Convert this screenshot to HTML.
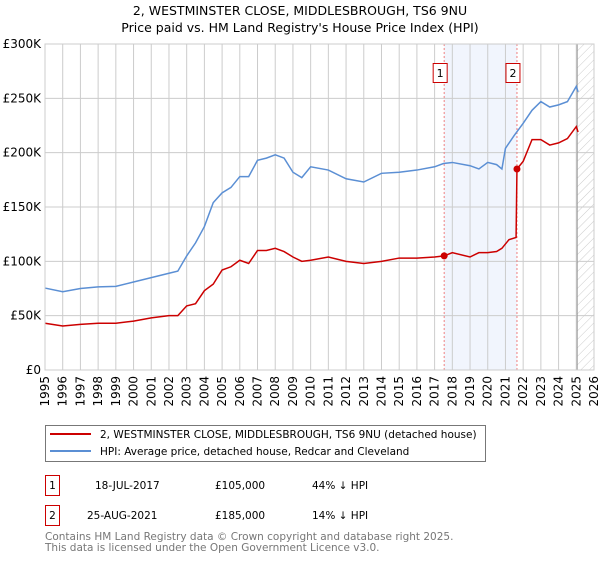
<!DOCTYPE html>
<html><head><meta charset="utf-8"><style>
body{margin:0;background:#fff;font-family:"DejaVu Sans","Liberation Sans",sans-serif;}
svg text{font-family:"DejaVu Sans","Liberation Sans",sans-serif;}
</style></head><body>
<svg id="chart" width="600" height="560" xmlns="http://www.w3.org/2000/svg">
<defs><pattern id="hatch" patternUnits="userSpaceOnUse" width="6" height="6" patternTransform="rotate(45)"><line x1="0" y1="0" x2="0" y2="6" stroke="#ccc" stroke-width="1"/></pattern></defs>
<text x="300" y="15" font-size="12.5" text-anchor="middle">2, WESTMINSTER CLOSE, MIDDLESBROUGH, TS6 9NU</text>
<text x="300" y="32" font-size="12.5" text-anchor="middle">Price paid vs. HM Land Registry's House Price Index (HPI)</text>
<g id="plot"></g>
<rect x="45.5" y="425.5" width="440" height="36" fill="#fff" stroke="#777"/>
<line x1="50" y1="434" x2="91" y2="434" stroke="#cc0000" stroke-width="2"/>
<text x="100" y="438" font-size="10.5">2, WESTMINSTER CLOSE, MIDDLESBROUGH, TS6 9NU (detached house)</text>
<line x1="50" y1="451" x2="91" y2="451" stroke="#5b8fd4" stroke-width="2"/>
<text x="100" y="455" font-size="10.5">HPI: Average price, detached house, Redcar and Cleveland</text>
<g font-size="10.5">
<rect x="45.5" y="475.5" width="14" height="20" fill="#fff" stroke="#cc0000"/><text x="52.5" y="489" text-anchor="middle">1</text>
<text x="95" y="489">18-JUL-2017</text><text x="215" y="489">£105,000</text><text x="312" y="489">44% ↓ HPI</text></g>
<g font-size="10.5">
<rect x="45.5" y="505.5" width="14" height="20" fill="#fff" stroke="#cc0000"/><text x="52.5" y="519" text-anchor="middle">2</text>
<text x="87" y="519">25-AUG-2021</text><text x="215" y="519">£185,000</text><text x="312" y="519">14% ↓ HPI</text></g>
<text x="45" y="540" font-size="10.5" fill="#777">Contains HM Land Registry data © Crown copyright and database right 2025.</text>
<text x="45" y="551" font-size="10.5" fill="#777">This data is licensed under the Open Government Licence v3.0.</text>
</svg>
<script>
const yTicks=[0,50,100,150,200,250,300];
const yTickLabels=["£0","£50K","£100K","£150K","£200K","£250K","£300K"];
const xYears=[1995,1996,1997,1998,1999,2000,2001,2002,2003,2004,2005,2006,2007,2008,2009,2010,2011,2012,2013,2014,2015,2016,2017,2018,2019,2020,2021,2022,2023,2024,2025,2026];
const hpiT=[1995,1996,1997,1998,1999,2000,2001,2002,2002.5,2003,2003.5,2004,2004.5,2005,2005.5,2006,2006.5,2007,2007.5,2008,2008.5,2009,2009.5,2010,2011,2012,2013,2014,2015,2016,2017,2017.5,2018,2019,2019.5,2020,2020.5,2020.8,2021,2021.5,2022,2022.5,2023,2023.5,2024,2024.5,2025,2025.1];
const hpiV=[75.4,72,75,76.5,77,81,85,89,91,105,117,132,154,163,168,178,178,193,195,198,195,182,177,187,184,176,173,181,182,184,187,190,191,188,185,191,189,185,204,216,227,239,247,242,244,247,261,256];
const paidT=[1995,1996,1997,1998,1999,2000,2001,2002,2002.5,2003,2003.5,2004,2004.5,2005,2005.5,2006,2006.5,2007,2007.5,2008,2008.5,2009,2009.5,2010,2011,2012,2013,2014,2015,2016,2017,2017.54,2018,2019,2019.5,2020,2020.5,2020.8,2021.2,2021.6,2021.65,2022,2022.5,2023,2023.5,2024,2024.5,2025,2025.1];
const paidV=[43,40.5,42,43,43,45,48,50,50,59,61,73,79,92,95,101,98,110,110,112,109,104,100,101,104,100,98,100,103,103,104,105,108,104,108,108,109,112,120,122,185,192,212,212,207,209,213,224,219];
const saleT=[2017.54,2021.65];
const saleV=[105,185];
const saleLabels=["1","2"];
const X0=45,X1=594,Y0=370,Y1=44;
const xs=t=>X0+(t-1995)/(2026-1995)*(X1-X0);
const ys=v=>Y0-v/300*(Y0-Y1);
const NS="http://www.w3.org/2000/svg";
const g=document.getElementById('plot');
function mk(tag,a){const e=document.createElementNS(NS,tag);for(const k in a)e.setAttribute(k,a[k]);g.appendChild(e);return e;}
const shade=mk('rect',{x:xs(saleT[0]),y:Y1,width:xs(saleT[1])-xs(saleT[0]),height:Y0-Y1,fill:'#eef3fc',opacity:0.8});


const hatch=mk('rect',{x:xs(2025.05),y:Y1,width:X1-xs(2025.05),height:Y0-Y1,fill:'url(#hatch)'});


yTicks.forEach((v,i)=>{
 const l=mk('line',{x1:X0,x2:X1,y1:ys(v),y2:ys(v),stroke:'#ccc','stroke-width':1});
 
 
 const t=mk('text',{x:X0-4,y:ys(v)+4,'font-size':12,'text-anchor':'end'});
 t.textContent=yTickLabels[i];
 
 
});
xYears.forEach(yr=>{
 const l=mk('line',{x1:xs(yr),x2:xs(yr),y1:Y1,y2:Y0,stroke:'#ccc','stroke-width':1});
 
 
 const t=mk('text',{x:0,y:0,'font-size':12,'text-anchor':'end',transform:`translate(${xs(yr)+4},${Y0+6}) rotate(-90)`});
 t.textContent=yr;
 
 
});
const vl=mk('line',{x1:xs(2025.05),x2:xs(2025.05),y1:Y1,y2:Y0,stroke:'#999','stroke-width':1});


saleT.forEach((t,i)=>{
 const l=mk('line',{x1:xs(t),x2:xs(t),y1:Y1,y2:Y0,stroke:'#f08080','stroke-dasharray':'2,2','stroke-width':1});
 
 
});
const hp=mk('polyline',{points:hpiT.map((t,i)=>xs(t)+','+ys(hpiV[i])).join(' '),fill:'none',stroke:'#5b8fd4','stroke-width':1.5});


const pp=mk('polyline',{points:paidT.map((t,i)=>xs(t)+','+ys(paidV[i])).join(' '),fill:'none',stroke:'#cc0000','stroke-width':1.5});


saleT.forEach((t,i)=>{
 const c=mk('circle',{cx:xs(t),cy:ys(saleV[i]),r:3.5,fill:'#cc0000'});
 
 
 const b=mk('rect',{x:xs(t)-11,y:63.5,width:14,height:19,fill:'#fff',stroke:'#cc0000'});
 
 
 const tx=mk('text',{x:xs(t)-4,y:77,'font-size':11,'text-anchor':'middle'});
 tx.textContent=saleLabels[i];
 
 
});
const fr=mk('rect',{x:X0,y:Y1,width:X1-X0,height:Y0-Y1,fill:'none',stroke:'#ccc'});


</script>
</body></html>
